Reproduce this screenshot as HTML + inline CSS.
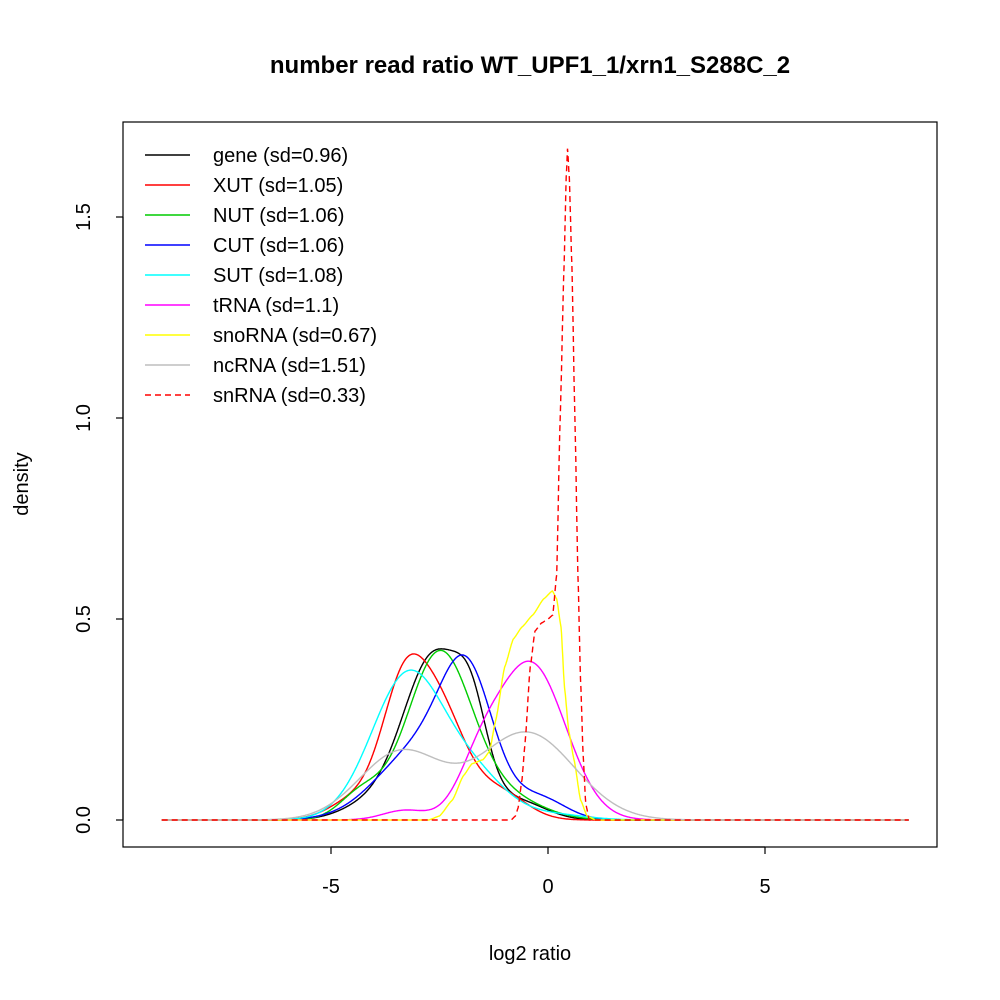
<!DOCTYPE html>
<html><head><meta charset="utf-8"><style>
body{margin:0;background:#fff}
svg{display:block;font-family:"Liberation Sans",sans-serif}
</style></head><body>
<svg id="s" width="1000" height="1000" viewBox="0 0 1000 1000">
<rect x="0" y="0" width="1000" height="1000" fill="#fff"/>
<text x="530" y="73" font-size="24" font-weight="bold" text-anchor="middle">number read ratio WT_UPF1_1/xrn1_S288C_2</text>
<rect x="123" y="122" width="814" height="725" fill="none" stroke="#000" stroke-width="1.2"/>
<g stroke="#000" stroke-width="1.2">
<line x1="331" y1="847" x2="765" y2="847"/>
<line x1="331" y1="847" x2="331" y2="854"/><line x1="548" y1="847" x2="548" y2="854"/><line x1="765" y1="847" x2="765" y2="854"/>
<line x1="123" y1="820" x2="123" y2="217"/>
<line x1="123" y1="820" x2="116" y2="820"/><line x1="123" y1="619" x2="116" y2="619"/><line x1="123" y1="418" x2="116" y2="418"/><line x1="123" y1="217" x2="116" y2="217"/>
</g>
<g font-size="20" text-anchor="middle">
<text x="331" y="893">-5</text><text x="548" y="893">0</text><text x="765" y="893">5</text>
<text x="530" y="960">log2 ratio</text>
<text transform="translate(90,820) rotate(-90)">0.0</text>
<text transform="translate(90,619) rotate(-90)">0.5</text>
<text transform="translate(90,418) rotate(-90)">1.0</text>
<text transform="translate(90,217) rotate(-90)">1.5</text>
<text transform="translate(28,484) rotate(-90)">density</text>
</g>
<g id="curves" fill="none" stroke-width="1.4"></g>
<g id="legend" font-size="20"></g>
</svg>
<script>
function N(x,m,s){return Math.exp(-(x-m)*(x-m)/(2*s*s))/(s*2.5066);}
function P(pts){return function(x){if(x<=pts[0][0]||x>=pts[pts.length-1][0])return 0;
 for(var i=1;i<pts.length;i++){if(x<=pts[i][0]){var a=pts[i-1],b=pts[i],t=(x-a[0])/(b[0]-a[0]);t=t*t*(3-2*t)*0.3+t*0.7;return a[1]+(b[1]-a[1])*t;}}return 0;};}
var sno=P([[-2.75,0],[-2.5,0.01],[-2.2,0.05],[-1.95,0.11],[-1.75,0.14],[-1.5,0.15],[-1.35,0.17],[-1.2,0.25],[-1.0,0.38],[-0.8,0.45],[-0.6,0.48],[-0.35,0.51],[-0.1,0.55],[0.1,0.57],[0.2,0.55],[0.3,0.48],[0.38,0.33],[0.48,0.22],[0.6,0.15],[0.75,0.05],[0.9,0.01],[1.1,0]]);
var sn=P([[-0.85,0],[-0.75,0.01],[-0.69,0.03],[-0.6,0.1],[-0.53,0.19],[-0.41,0.38],[-0.3,0.47],[-0.15,0.49],[0,0.5],[0.11,0.51],[0.2,0.61],[0.28,1.0],[0.37,1.38],[0.42,1.6],[0.45,1.67],[0.49,1.6],[0.55,1.38],[0.62,1.0],[0.69,0.61],[0.75,0.35],[0.81,0.16],[0.87,0.04],[0.95,0]]);
var C=[
["#000",[[0.78,-2.6,0.75],[0.12,-1.75,0.35],[0.06,-0.6,0.6],[0.04,-4.3,0.6]],"gene (sd=0.96)"],
["#f00",[[0.35,-3.35,0.5],[0.4,-2.5,0.6],[0.1,-1.1,0.6],[0.08,-4.4,0.6]],"XUT (sd=1.05)"],
["#0c0",[[0.78,-2.5,0.75],[0.08,-4.3,0.5],[0.1,-0.9,0.8]],"NUT (sd=1.06)"],
["#00f",[[0.45,-1.85,0.6],[0.45,-2.9,1.0],[0.08,-0.2,0.6]],"CUT (sd=1.06)"],
["#0ff",[[0.78,-3.2,0.85],[0.15,-1.6,0.7],[0.03,0,0.8]],"SUT (sd=1.08)"],
["#f0f",[[0.78,-0.4,0.8],[0.03,-3.3,0.5],[0.12,-1.6,0.5]],"tRNA (sd=1.1)"],
["#ff0",sno,"snoRNA (sd=0.67)"],
["#bebebe",[[0.4,-3.4,0.95],[0.6,-0.5,1.1]],"ncRNA (sd=1.51)"],
["#f00",sn,"snRNA (sd=0.33)",1]
];
var g=document.getElementById("curves"),L=document.getElementById("legend"),ns="http://www.w3.org/2000/svg";
C.forEach(function(c,i){
 var d="";for(var x=-8.9;x<=8.31;x+=0.01){var y=0;
 if(typeof c[1]=="function")y=c[1](x);else c[1].forEach(function(k){y+=k[0]*N(x,k[1],k[2]);});
 d+=(d?"L":"M")+(548+x*43.4).toFixed(1)+","+(820-y*402).toFixed(1);}
 var p=document.createElementNS(ns,"path");p.setAttribute("d",d);p.setAttribute("stroke",c[0]);
 if(c[3])p.setAttribute("stroke-dasharray","6,4");g.appendChild(p);
 var yy=155+i*30;var l=document.createElementNS(ns,"line");
 l.setAttribute("x1",145);l.setAttribute("x2",190);l.setAttribute("y1",yy);l.setAttribute("y2",yy);
 l.setAttribute("stroke",c[0]);l.setAttribute("stroke-width",1.4);if(c[3])l.setAttribute("stroke-dasharray","6,4");L.appendChild(l);
 var t=document.createElementNS(ns,"text");t.setAttribute("x",213);t.setAttribute("y",yy+7);t.textContent=c[2];L.appendChild(t);
});
</script>
</body></html>
